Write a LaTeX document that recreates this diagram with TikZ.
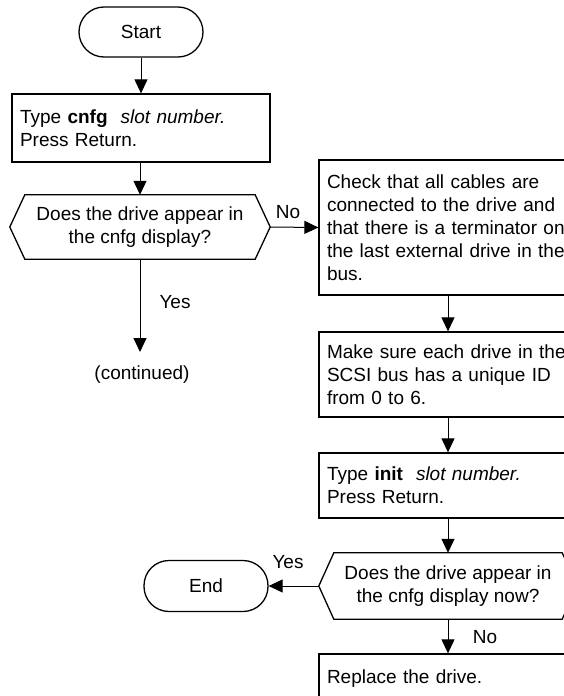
\documentclass[tikz,border=0pt]{standalone}
\usepackage{fontspec}
\setmainfont{Liberation Sans}
\usetikzlibrary{arrows.meta}
\tikzset{
  txt/.style={font=\fontsize{19}{23}\selectfont},
  term/.style={txt, draw, line width=1.3pt, rounded corners=25pt, minimum width=124pt, minimum height=50pt, inner sep=0pt},
  procbox/.style={txt, draw, line width=1.3pt, minimum width=258pt, minimum height=68pt, text width=242pt, align=left, inner xsep=8pt, inner ysep=0pt},
  decision/.style={txt, minimum width=260pt, minimum height=64pt, align=center, inner sep=0pt},
  hexline/.style={line width=1.3pt, line join=miter},
  conn/.style={line width=1pt, -{Triangle[length=14pt,width=13pt]}},
  lbl/.style={txt, inner sep=0pt}
}
\begin{document}
\begin{tikzpicture}[x=1pt,y=-1pt]
\useasboundingbox (0,0) rectangle (564,696);
\clip (0,0) rectangle (564,696);
% left column
\node[term] (start) at (141,32) {Start};
\node[procbox] (b1) at (141,128) {Type \textbf{cnfg}\hspace{0.35em} \textit{slot number.}\\Press Return.};
\node[decision] (d1) at (140,227) {Does the drive appear in\\the cnfg display?};
\draw[hexline] (d1.west) -- ([xshift=15pt]d1.north west) -- ([xshift=-15pt]d1.north east) -- (d1.east) -- ([xshift=-15pt]d1.south east) -- ([xshift=15pt]d1.south west) -- cycle;
\coordinate (cont) at (140,352);
\node[lbl] (contl) at (142,375) {(continued)};
% right column
\node[procbox, minimum height=135pt] (b2) at (448,227.5) {Check that all cables are\\connected to the drive and\\that there is a terminator on\\the last external drive in the\\bus.};
\node[procbox, minimum height=85pt] (b3) at (448,374.5) {Make sure each drive in the\\SCSI bus has a unique ID\\from 0 to 6.};
\node[procbox, minimum height=65pt] (b4) at (448,485.5) {Type \textbf{init}\hspace{0.35em} \textit{slot number.}\\Press Return.};
\node[decision, minimum height=66pt, minimum width=258pt] (d2) at (448,586) {Does the drive appear in\\the cnfg display now?};
\draw[hexline] (d2.west) -- ([xshift=15pt]d2.north west) -- ([xshift=-15pt]d2.north east) -- (d2.east) -- ([xshift=-15pt]d2.south east) -- ([xshift=15pt]d2.south west) -- cycle;
\node[term, minimum height=51pt] (end) at (206,586) {End};
\node[procbox, minimum height=68pt] (b5) at (448,688) {Replace the drive.\\\mbox{}};
% connectors
\draw[conn] (start.south) -- (b1.north -| start.south);
\draw[conn] (b1.south -| d1.north) -- (d1.north);
\draw[conn] (d1.south) -- (cont);
\draw[conn] (d1.east) -- (b2.west);
\draw[conn] (b2.south) -- (b3.north);
\draw[conn] (b3.south) -- (b4.north);
\draw[conn] (b4.south) -- (d2.north);
\draw[conn] (d2.west) -- (end.east);
\draw[conn] (d2.south) -- (b5.north);
% labels
\node[lbl] (lno1) at (288,212) {No};
\node[lbl] (lyes1) at (175,302) {Yes};
\node[lbl] (lyes2) at (288,562) {Yes};
\node[lbl] (lno2) at (485,637) {No};
\end{tikzpicture}
\end{document}
